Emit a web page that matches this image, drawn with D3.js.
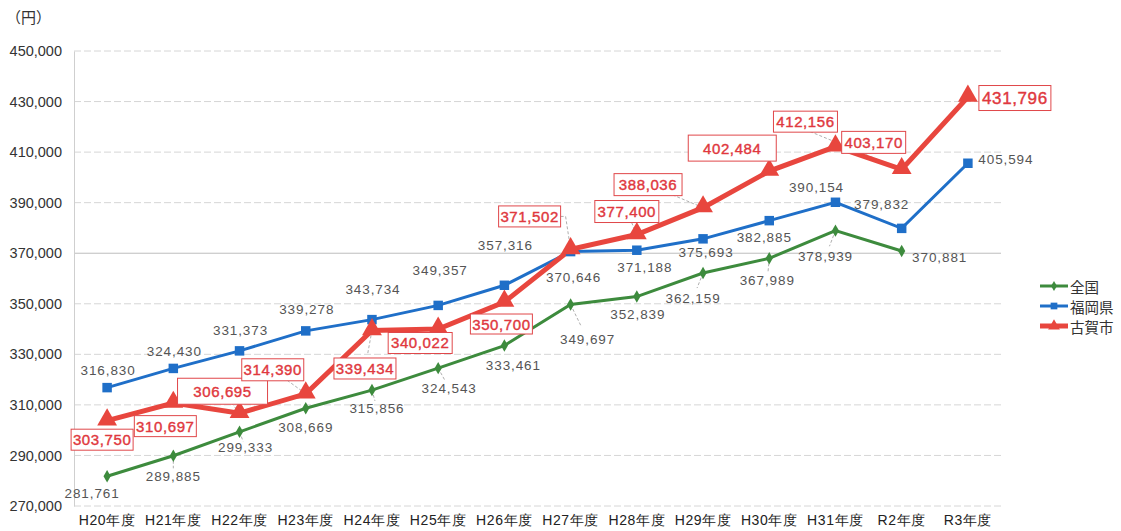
<!DOCTYPE html>
<html><head><meta charset="utf-8">
<script src="https://cdn.jsdelivr.net/npm/d3@7"></script>
<style>
body{margin:0;background:#fff;}
svg{display:block;font-family:"Noto Sans CJK JP","Noto Sans",sans-serif;}
</style></head>
<body><svg id="c" width="1121" height="531"></svg>
<script>
const categories = ["H20年度","H21年度","H22年度","H23年度","H24年度","H25年度","H26年度","H27年度","H28年度","H29年度","H30年度","H31年度","R2年度","R3年度"];
const zenkoku = [281761,289885,299333,308669,315856,324543,333461,349697,352839,362159,367989,378939,370881,null];
const fukuoka = [316830,324430,331373,339278,343734,349357,357316,370646,371188,375693,382885,390154,379832,405594];
const koga = [303750,310697,306695,314390,339434,340022,350700,371502,377400,388036,402484,412156,403170,431796];
const yTicks = [270000,290000,310000,330000,350000,370000,390000,410000,430000,450000];
const seriesNames = ["全国","福岡県","古賀市"];

// label layout offsets (dx, dy relative to point)
const zLab = [[-15,17],[0,21],[6,16],[0,19],[5,18],[11,20],[9,20],[17,35],[1,18],[-10,25],[-2,22],[-10,26],[38,7]];
const fLab = [[1,-17],[1,-17],[1,-20],[1,-21],[1,-30],[2,-35],[1,-40],[3,26],[8,17],[3,14],[-5,17],[-19,-15],[-20,-24],[38,-4]];
const kLab = [[-5,19],[-8,23],[-17,-22],[-33,-24],[-7,38],[-18,14],[-3,22],[-41,-33],[-10,-23],[-55,-23],[-37,-23],[-30,-25],[-28,-27],[47,1]];
const kBox = [[62,21],[62,21],[90,26],[62,22],[62,21],[64,21],[62,20],[62,21],[64,22],[68,22],[88,26],[64,21],[64,22],[72,25]];

const svg = d3.select("#c");
const x = d3.scaleBand().domain(categories).range([74, 1001]);
const y = d3.scaleLinear().domain([270000,450000]).range([506, 51]);
const cx = c => x(c) + x.bandwidth()/2;
const fmt = d3.format(",");

// gridlines
svg.append("g").selectAll("line").data(yTicks).join("line")
  .attr("x1",74).attr("x2",1001).attr("y1",d=>y(d)).attr("y2",d=>y(d))
  .attr("stroke",d=>d===370000?"#bdbdbd":"#d6d6d6").attr("stroke-width",1)
  .attr("stroke-dasharray",d=>d===370000?null:"7,3");
// y axis
const ya = svg.append("g").attr("transform","translate(74,0)")
  .call(d3.axisLeft(y).tickValues(yTicks).tickFormat(fmt).tickSize(0).tickPadding(12));
ya.select(".domain").attr("stroke","#cfcfcf");
ya.selectAll("text").attr("font-size",14.5).attr("fill","#333").attr("font-family","'Liberation Sans',Arial,sans-serif");
// x axis
const xa = svg.append("g").attr("transform","translate(0,506)")
  .call(d3.axisBottom(x).tickSize(0).tickPadding(9));
xa.select(".domain").remove();
xa.selectAll("text").attr("font-size",14).attr("letter-spacing",0.6).attr("fill","#222");

svg.append("text").attr("x",6).attr("y",23).attr("font-size",15).attr("fill","#333").text("（円）");

const colors = {z:"#3d8b3d", f:"#1f6fc8", k:"#e8463e"};
const line = d3.line().defined(d=>d[1]!=null).x(d=>cx(d[0])).y(d=>y(d[1]));
const pts = arr => categories.map((c,i)=>[c,arr[i]]);

// leader lines
const leaders = [
  [koga,2],[koga,3],[koga,4],[koga,8],[koga,9],[zenkoku,1],[zenkoku,2],[zenkoku,4],[zenkoku,5],[zenkoku,7],[zenkoku,9],[zenkoku,10],[zenkoku,11]
];
const labOf = (arr)=> arr===koga?kLab:(arr===zenkoku?zLab:fLab);
svg.append("g").selectAll("line").data(leaders).join("line")
  .attr("x1",d=>cx(categories[d[1]])).attr("y1",d=>y(d[0][d[1]]))
  .attr("x2",d=>cx(categories[d[1]])+labOf(d[0])[d[1]][0]*0.6)
  .attr("y2",d=>y(d[0][d[1]])+labOf(d[0])[d[1]][1]*0.6)
  .attr("stroke","#999").attr("stroke-width",0.8).attr("stroke-dasharray","3,2");
{
  const px = cx(categories[7]), py = y(koga[7]);
  const lx = px + kLab[7][0] + kBox[7][0]/2, ly = py + kLab[7][1];
  svg.append("path").attr("d",`M${lx},${ly}H${lx+5}L${px},${py}`).attr("fill","none")
    .attr("stroke","#999").attr("stroke-width",0.8).attr("stroke-dasharray","3,2");
  const rx = cx(categories[12]), ry = y(koga[12]);
  const tx = cx(categories[11]) + kLab[11][0], ty = y(koga[11]) + kLab[11][1] + 8;
  svg.append("line").attr("x1",tx).attr("y1",ty).attr("x2",rx).attr("y2",ry)
    .attr("stroke","#999").attr("stroke-width",0.8).attr("stroke-dasharray","3,2");
}

// lines
svg.append("path").datum(pts(zenkoku)).attr("d",line).attr("fill","none").attr("stroke",colors.z).attr("stroke-width",3);
svg.append("path").datum(pts(fukuoka)).attr("d",line).attr("fill","none").attr("stroke",colors.f).attr("stroke-width",3);
svg.append("path").datum(pts(koga)).attr("d",line).attr("fill","none").attr("stroke",colors.k).attr("stroke-width",5);

// markers
const diamond = d3.symbol().type(d3.symbolDiamond).size(45);
const square = d3.symbol().type(d3.symbolSquare).size(90);
const tri = d3.symbol().type(d3.symbolTriangle).size(170);
svg.append("g").selectAll("path").data(pts(zenkoku).filter(d=>d[1]!=null)).join("path")
  .attr("d",diamond).attr("transform",d=>`translate(${cx(d[0])},${y(d[1])})`).attr("fill",colors.z);
svg.append("g").selectAll("path").data(pts(fukuoka)).join("path")
  .attr("d",square).attr("transform",d=>`translate(${cx(d[0])},${y(d[1])})`).attr("fill",colors.f);
svg.append("g").selectAll("path").data(pts(koga)).join("path")
  .attr("d",tri).attr("transform",d=>`translate(${cx(d[0])},${y(d[1])-1})`).attr("fill",colors.k);

// plain labels
function plainLabels(arr, offs){
  svg.append("g").selectAll("text").data(pts(arr).filter(d=>d[1]!=null)).join("text")
    .attr("x",(d,i)=>cx(d[0])+offs[i][0]).attr("y",(d,i)=>y(d[1])+offs[i][1])
    .attr("text-anchor","middle").attr("dominant-baseline","central")
    .attr("font-size",13.5).attr("letter-spacing",0.9).attr("fill","#555")
    .attr("font-family","'Liberation Sans',Arial,sans-serif")
    .text(d=>fmt(d[1]));
}
plainLabels(zenkoku, zLab);
plainLabels(fukuoka, fLab);

// boxed red labels
const kg = svg.append("g").selectAll("g").data(pts(koga)).join("g")
  .attr("transform",(d,i)=>`translate(${cx(d[0])+kLab[i][0]},${y(d[1])+kLab[i][1]})`);
kg.append("rect").attr("x",(d,i)=>-kBox[i][0]/2).attr("y",(d,i)=>-kBox[i][1]/2)
  .attr("width",(d,i)=>kBox[i][0]).attr("height",(d,i)=>kBox[i][1])
  .attr("fill","#fff").attr("stroke","#e0474a").attr("stroke-width",1);
kg.append("text").attr("text-anchor","middle").attr("dominant-baseline","central")
  .attr("font-size",(d,i)=>i===13?17:15).attr("letter-spacing",0.6)
  .attr("fill","#e0383e").attr("stroke","#e0383e").attr("stroke-width",0.4)
  .attr("font-family","'Liberation Sans',Arial,sans-serif")
  .text(d=>fmt(d[1]));

// legend
const leg = svg.append("g");
const legItems = [[seriesNames[0],colors.z,3],[seriesNames[1],colors.f,3],[seriesNames[2],colors.k,5]];
legItems.forEach((it,i)=>{
  const ly = 286 + i*20;
  leg.append("line").attr("x1",1040).attr("x2",1068).attr("y1",ly).attr("y2",ly).attr("stroke",it[1]).attr("stroke-width",it[2]);
  const sym = i===0?d3.symbol().type(d3.symbolDiamond).size(30):i===1?d3.symbol().type(d3.symbolSquare).size(45):d3.symbol().type(d3.symbolTriangle).size(60);
  leg.append("path").attr("d",sym).attr("transform",`translate(1054,${ly})`).attr("fill",it[1]);
  leg.append("text").attr("x",1070).attr("y",ly).attr("dominant-baseline","central").attr("font-size",14.5).attr("fill","#333").text(it[0]);
});
</script></body></html>
